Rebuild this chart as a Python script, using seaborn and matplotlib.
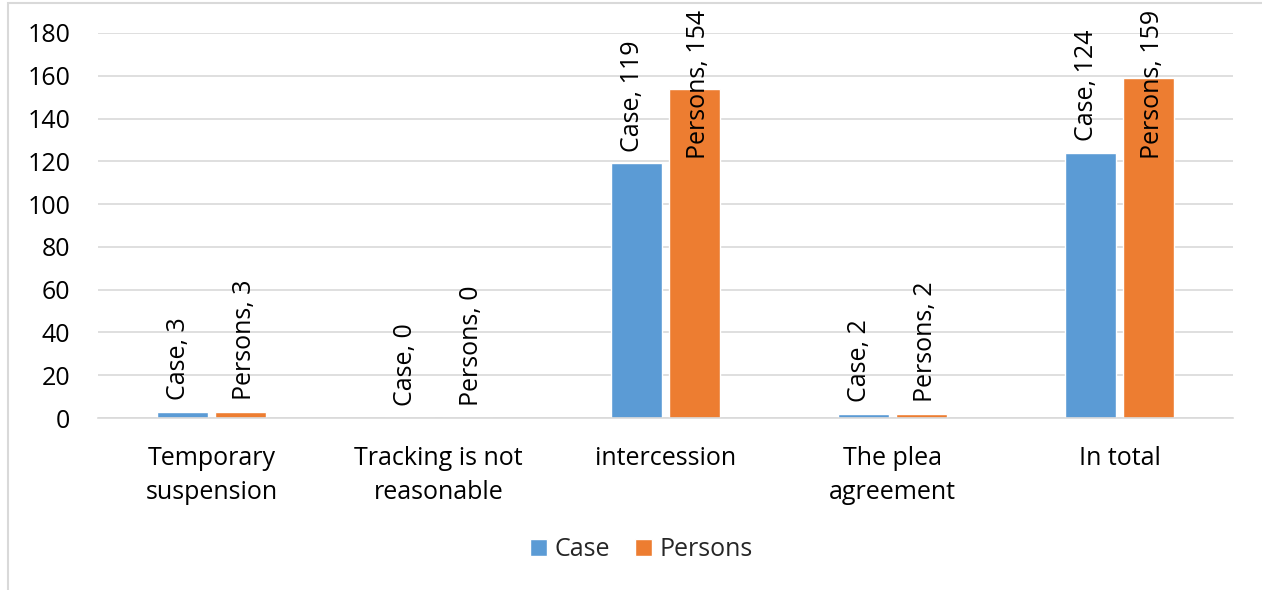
import matplotlib
matplotlib.use("Agg")
import matplotlib.pyplot as plt
import seaborn as sns
import pandas as pd
from matplotlib.patches import Rectangle, Patch

categories = ["Temporary\nsuspension", "Tracking is not\nreasonable", "intercession",
              "The plea\nagreement", "In total"]
case_values = [3, 0, 119, 2, 124]
persons_values = [3, 0, 154, 2, 159]
series_names = ["Case", "Persons"]
colors = ["#5B9BD5", "#ED7D31"]
yticks = [0, 20, 40, 60, 80, 100, 120, 140, 160, 180]

df = pd.DataFrame({
    "category": categories * 2,
    "series": [series_names[0]] * len(categories) + [series_names[1]] * len(categories),
    "value": case_values + persons_values,
})

sns.set_theme(style="white")
plt.rcParams["font.family"] = ["Open Sans", "DejaVu Sans"]
FS = 18

fig = plt.figure(figsize=(12.62, 5.90), dpi=100)
ax = fig.add_axes([98 / 1262, 1 - 418 / 590, (1233 - 98) / 1262, (418 - 33) / 590])

sns.barplot(data=df, x="category", y="value", hue="series", palette=colors,
            width=0.511, gap=0.12, ax=ax, legend=False, saturation=1)

ax.set_ylim(0, 180)
ax.set_xlim(-0.5, len(categories) - 0.5)
ax.set_yticks(yticks)
ax.yaxis.grid(True, color="#d9d9d9", linewidth=1.2)
ax.set_axisbelow(True)
for s in ["top", "right", "left"]:
    ax.spines[s].set_visible(False)
ax.spines["bottom"].set_color("#d9d9d9")
ax.spines["bottom"].set_linewidth(1.2)
ax.set_xlabel("")
ax.set_ylabel("")
ax.tick_params(axis="y", length=0, pad=20, labelsize=FS, labelcolor="black")
ax.tick_params(axis="x", length=0, pad=20, labelsize=FS, labelcolor="black")
for t in ax.get_xticklabels():
    t.set_linespacing(1.5)

# data labels
for i, cat in enumerate(categories):
    for j, (name, vals) in enumerate(zip(series_names, [case_values, persons_values])):
        v = vals[i]
        x = i + (-0.1433 if j == 0 else 0.1433)
        label = f"{name}, {v}"
        if v > 150:
            ax.text(x, 191, label, rotation=90, ha="center", va="top", fontsize=FS,
                    color="black", clip_on=False)
        else:
            ax.text(x, v + 5.5, label, rotation=90, ha="center", va="bottom", fontsize=FS,
                    color="black", clip_on=False)

# legend
handles = [Patch(facecolor=c, label=n) for c, n in zip(colors, series_names)]
fig.legend(handles=handles, loc="center", bbox_to_anchor=(0.508, 1 - 550 / 590), ncol=2,
           frameon=False, fontsize=FS, handlelength=0.68, handleheight=0.68,
           handletextpad=0.3, columnspacing=1.0)

# chart border
fig.patches.append(Rectangle((8 / 1262, -0.1), 1.2, 1 - 3 / 590 + 0.1, transform=fig.transFigure,
                             fill=False, edgecolor="#d9d9d9", linewidth=1.5))

fig.savefig("out.png", dpi=100)
